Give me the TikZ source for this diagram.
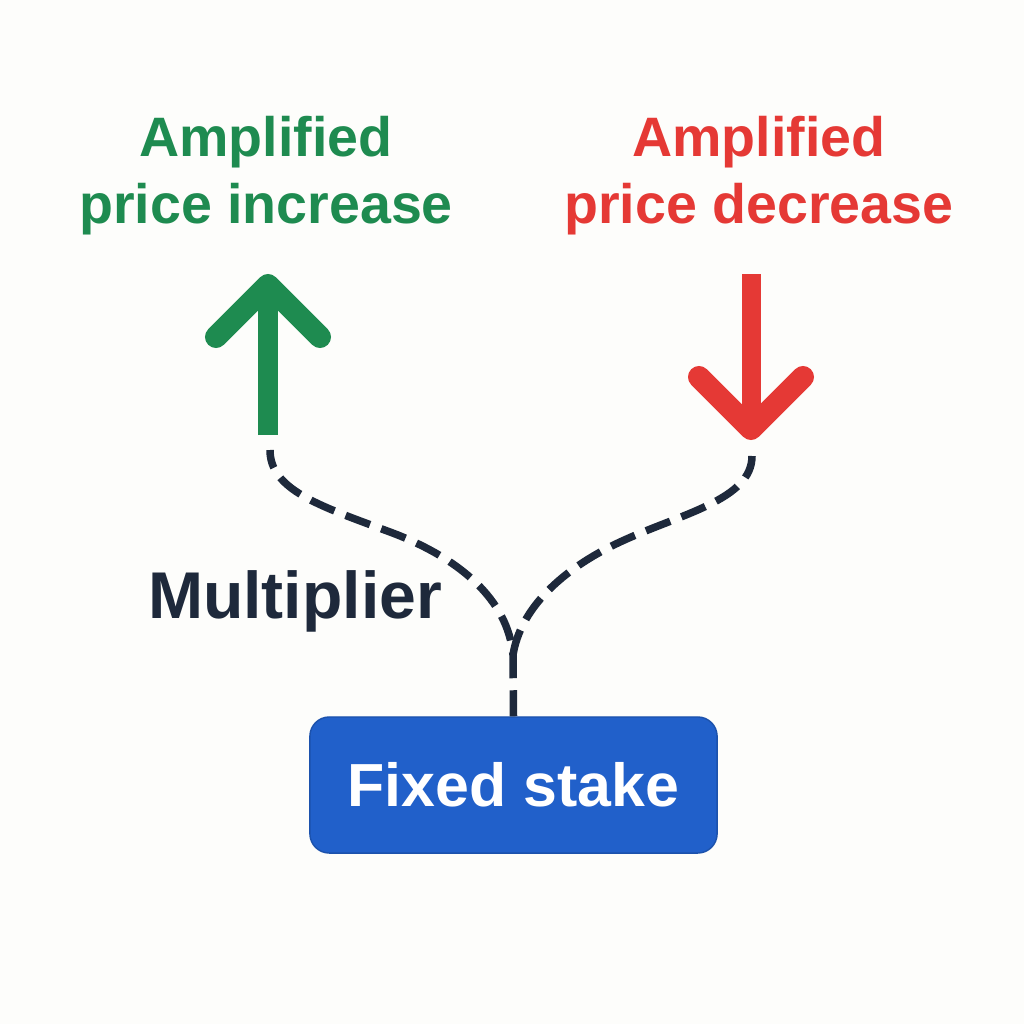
\documentclass[tikz,border=0pt]{standalone}
\usepackage{fontspec}
\setmainfont{Liberation Sans}
\usepackage{xcolor}
\usetikzlibrary{positioning, calc}

\definecolor{upgreen}{HTML}{1E8B50}
\definecolor{downred}{HTML}{E53935}
\definecolor{inkblue}{HTML}{1E293B}
\definecolor{stakeblue}{HTML}{2160CA}
\definecolor{paper}{HTML}{FDFDFB}

\begin{document}
\begin{tikzpicture}[
    x=0.01cm, y=-0.01cm,
    headline/.style={font=\fontsize{15.8}{19}\selectfont\bfseries, align=center, inner sep=0pt},
    stakebox/.style={rectangle, fill=stakeblue, draw=stakeblue!85!black, line width=0.4pt, rounded corners=5.5pt, minimum width=4.07cm, minimum height=1.36cm, text=white, font=\fontsize{17.3}{20}\selectfont\bfseries},
    shaft/.style={line width=0.19cm, line cap=butt},
    chevron/.style={line width=0.22cm, line cap=round, line join=round},
    link/.style={draw=inkblue, line width=0.075cm, dash pattern=on 0.26cm off 0.12cm}
]
% Canvas
\fill[paper] (0,0) rectangle (1024,1024);
\useasboundingbox (0,0) rectangle (1024,1024);

% Headlines
\node[headline, text=upgreen, anchor=north] (uplabel) at (266,116) {Amplified\\price increase};
\node[headline, text=downred, anchor=north] (downlabel) at (759,116) {Amplified\\price decrease};

% Up arrow
\coordinate (upbase) at (268,435);
\coordinate (uptip) at (268,285);
\draw[shaft, upgreen] (upbase) -- ($(uptip)+(0,15)$);
\draw[chevron, upgreen] ($(uptip)+(-52,52)$) -- (uptip) -- ($(uptip)+(52,52)$);

% Down arrow
\coordinate (downbase) at (751,274);
\coordinate (downtip) at (751,429);
\draw[shaft, downred] (downbase) -- ($(downtip)+(0,-15)$);
\draw[chevron, downred] ($(downtip)+(-52,-52)$) -- (downtip) -- ($(downtip)+(52,-52)$);

% Stake and multiplier
\node[stakebox] (stake) at (513.5,785) {Fixed stake};
\node[font=\fontsize{18.8}{22}\selectfont\bfseries, text=inkblue, anchor=base, inner sep=0pt] (mult) at (295,618) {Multiplier};

% Dashed links
\coordinate (fork) at (513,655);
\coordinate (upfoot) at (270,450);
\coordinate (downfoot) at (752,456);
\draw[link] (stake.north) -- (fork) .. controls (508,600) and (460,558) .. (390,532) .. controls (320,506) and (270,490) .. (upfoot);
\draw[link] (fork) .. controls (520,610) and (560,570) .. (620,542) .. controls (680,514) and (752,500) .. (downfoot);

\end{tikzpicture}
\end{document}
